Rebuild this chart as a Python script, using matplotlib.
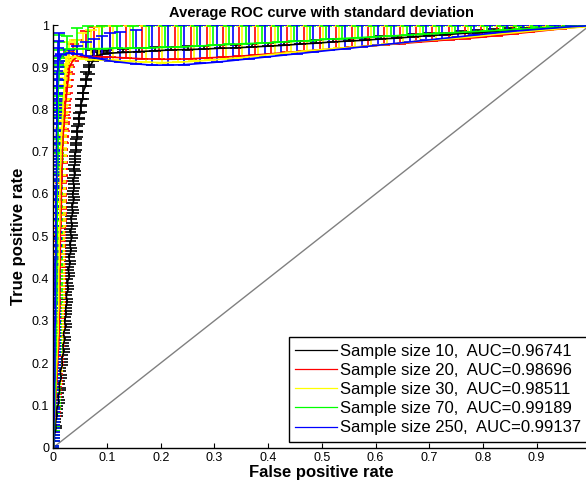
import matplotlib
matplotlib.use("Agg")
import matplotlib.pyplot as plt
from matplotlib.lines import Line2D

plt.rcParams['font.family'] = ['Liberation Sans', 'DejaVu Sans']

tpr_levels = [0.000, 0.015, 0.030, 0.045, 0.060, 0.075, 0.090, 0.105, 0.120, 0.135, 0.150, 0.165, 0.180, 0.195, 0.210, 0.225,
              0.240, 0.255, 0.270, 0.285, 0.300, 0.315, 0.330, 0.345, 0.360, 0.375, 0.390, 0.405, 0.420, 0.435, 0.450, 0.465,
              0.480, 0.495, 0.510, 0.525, 0.540, 0.555, 0.570, 0.585, 0.600, 0.615, 0.630, 0.645, 0.660, 0.675, 0.690, 0.705,
              0.720, 0.735, 0.750, 0.765, 0.780, 0.795, 0.810, 0.825, 0.840, 0.855, 0.870, 0.885, 0.900, 0.915]

steep_fpr_10 = [0.000, 0.002, 0.002, 0.005, 0.004, 0.007, 0.006, 0.010, 0.009, 0.012, 0.011, 0.015, 0.013, 0.017, 0.016, 0.019,
                0.018, 0.021, 0.019, 0.023, 0.021, 0.024, 0.023, 0.026, 0.024, 0.028, 0.026, 0.030, 0.028, 0.031, 0.029, 0.033,
                0.031, 0.034, 0.032, 0.035, 0.033, 0.036, 0.035, 0.038, 0.036, 0.039, 0.037, 0.040, 0.038, 0.041, 0.040, 0.043,
                0.042, 0.045, 0.044, 0.048, 0.047, 0.051, 0.051, 0.055, 0.055, 0.060, 0.061, 0.066, 0.067, 0.074]
steep_std_10 = [0.004, 0.007, 0.008, 0.007, 0.008, 0.007, 0.008, 0.007, 0.008, 0.007, 0.008, 0.007, 0.008, 0.007, 0.008, 0.007,
                0.008, 0.007, 0.008, 0.007, 0.008, 0.007, 0.008, 0.007, 0.008, 0.007, 0.008, 0.007, 0.008, 0.007, 0.008, 0.007,
                0.008, 0.007, 0.008, 0.007, 0.008, 0.008, 0.008, 0.008, 0.008, 0.008, 0.009, 0.009, 0.009, 0.009, 0.010, 0.010,
                0.010, 0.011, 0.011, 0.012, 0.012, 0.013, 0.014, 0.015, 0.016, 0.017, 0.018, 0.020, 0.022, 0.025]
steep_fpr_20 = [0.000, 0.001, 0.001, 0.002, 0.002, 0.003, 0.004, 0.004, 0.005, 0.005, 0.006, 0.007, 0.007, 0.008, 0.008, 0.009,
                0.010, 0.010, 0.011, 0.011, 0.011, 0.011, 0.012, 0.012, 0.012, 0.012, 0.012, 0.012, 0.012, 0.013, 0.013, 0.013,
                0.013, 0.013, 0.013, 0.014, 0.014, 0.014, 0.015, 0.015, 0.015, 0.015, 0.016, 0.016, 0.016, 0.017, 0.017, 0.017,
                0.018, 0.018, 0.019, 0.020, 0.021, 0.022, 0.022, 0.024, 0.025, 0.026, 0.028, 0.029, 0.030, 0.036]
steep_std_20 = [0.004, 0.008, 0.007, 0.008, 0.007, 0.008, 0.007, 0.008, 0.007, 0.008, 0.007, 0.008, 0.007, 0.008, 0.007, 0.008,
                0.007, 0.008, 0.007, 0.008, 0.007, 0.008, 0.007, 0.008, 0.008, 0.008, 0.008, 0.008, 0.008, 0.008, 0.008, 0.009,
                0.009, 0.009, 0.009, 0.010, 0.010, 0.010, 0.011, 0.011, 0.012, 0.012, 0.013, 0.013, 0.014, 0.015, 0.016, 0.017,
                0.018, 0.019, 0.020, 0.021, 0.023, 0.025, 0.027, 0.029, 0.031, 0.033, 0.035, 0.037, 0.039, 0.041]
steep_fpr_30 = [0.000, 0.001, 0.001, 0.001, 0.002, 0.002, 0.003, 0.003, 0.004, 0.004, 0.005, 0.005, 0.006, 0.006, 0.007, 0.007,
                0.008, 0.008, 0.009, 0.009, 0.009, 0.009, 0.010, 0.010, 0.010, 0.010, 0.010, 0.010, 0.010, 0.011, 0.011, 0.011,
                0.011, 0.011, 0.011, 0.012, 0.012, 0.012, 0.012, 0.012, 0.012, 0.013, 0.013, 0.013, 0.013, 0.014, 0.014, 0.014,
                0.015, 0.015, 0.016, 0.017, 0.017, 0.018, 0.018, 0.019, 0.020, 0.021, 0.022, 0.023, 0.025, 0.030]
steep_std_30 = [0.004, 0.007, 0.008, 0.007, 0.008, 0.007, 0.008, 0.007, 0.008, 0.007, 0.008, 0.007, 0.008, 0.007, 0.008, 0.007,
                0.008, 0.007, 0.008, 0.007, 0.008, 0.008, 0.008, 0.008, 0.008, 0.008, 0.008, 0.009, 0.009, 0.009, 0.009, 0.010,
                0.010, 0.010, 0.011, 0.011, 0.011, 0.012, 0.012, 0.013, 0.013, 0.014, 0.014, 0.015, 0.016, 0.017, 0.018, 0.019,
                0.020, 0.021, 0.022, 0.024, 0.026, 0.028, 0.030, 0.032, 0.034, 0.036, 0.038, 0.040, 0.042, 0.044]
steep_fpr_70 = [0.000, 0.001, 0.001, 0.002, 0.002, 0.002, 0.003, 0.003, 0.003, 0.003, 0.004, 0.004, 0.004, 0.004, 0.004, 0.005,
                0.005, 0.005, 0.005, 0.005, 0.005, 0.005, 0.005, 0.006, 0.006, 0.006, 0.006, 0.006, 0.006, 0.006, 0.006, 0.006,
                0.006, 0.007, 0.007, 0.007, 0.007, 0.007, 0.007, 0.007, 0.007, 0.007, 0.007, 0.007, 0.008, 0.008, 0.008, 0.008,
                0.008, 0.008, 0.008, 0.008, 0.009, 0.009, 0.009, 0.009, 0.009, 0.009, 0.010, 0.010, 0.010, 0.011]
steep_std_70 = [0.004, 0.007, 0.008, 0.007, 0.008, 0.007, 0.008, 0.007, 0.008, 0.007, 0.008, 0.007, 0.008, 0.007, 0.008, 0.008,
                0.008, 0.008, 0.008, 0.008, 0.009, 0.009, 0.009, 0.009, 0.010, 0.010, 0.010, 0.011, 0.011, 0.011, 0.012, 0.012,
                0.013, 0.013, 0.014, 0.014, 0.015, 0.016, 0.016, 0.017, 0.018, 0.019, 0.020, 0.021, 0.022, 0.023, 0.025, 0.026,
                0.028, 0.030, 0.032, 0.034, 0.036, 0.038, 0.041, 0.044, 0.047, 0.050, 0.053, 0.056, 0.059, 0.062]
steep_fpr_250 = [0.000, 0.001, 0.001, 0.001, 0.001, 0.002, 0.002, 0.002, 0.002, 0.002, 0.002, 0.003, 0.003, 0.003, 0.003, 0.003,
                 0.003, 0.003, 0.003, 0.003, 0.004, 0.004, 0.004, 0.004, 0.004, 0.004, 0.004, 0.004, 0.004, 0.004, 0.005, 0.005,
                 0.005, 0.005, 0.005, 0.005, 0.005, 0.005, 0.005, 0.005, 0.005, 0.006, 0.006, 0.006, 0.006, 0.006, 0.006, 0.006,
                 0.006, 0.006, 0.006, 0.007, 0.007, 0.007, 0.007, 0.007, 0.007, 0.008, 0.008, 0.008, 0.009, 0.010]
steep_std_250 = [0.004, 0.008, 0.007, 0.008, 0.007, 0.008, 0.007, 0.008, 0.007, 0.008, 0.007, 0.008, 0.008, 0.008, 0.008, 0.008,
                 0.008, 0.008, 0.009, 0.009, 0.009, 0.009, 0.010, 0.010, 0.010, 0.011, 0.011, 0.011, 0.012, 0.012, 0.013, 0.013,
                 0.014, 0.014, 0.015, 0.015, 0.016, 0.017, 0.018, 0.019, 0.020, 0.021, 0.022, 0.023, 0.024, 0.026, 0.028, 0.030,
                 0.032, 0.034, 0.036, 0.038, 0.040, 0.042, 0.045, 0.048, 0.051, 0.054, 0.057, 0.060, 0.063, 0.066]

# flat part of every curve: mean tpr and upper spread at each fpr
fpr_10 = [0.082, 0.092, 0.100, 0.130, 0.160, 0.190, 0.220, 0.250, 0.280, 0.310, 0.340, 0.370, 0.400, 0.430, 0.460, 0.490,
          0.520, 0.550, 0.580, 0.610, 0.640, 0.670, 0.700, 0.730, 0.760, 0.790, 0.820, 0.850, 0.880, 0.910, 0.940, 0.970, 1.000]
tpr_10 = [0.927, 0.931, 0.933, 0.935, 0.937, 0.939, 0.941, 0.942, 0.943, 0.945, 0.946, 0.948, 0.950, 0.952, 0.955, 0.957,
          0.960, 0.962, 0.964, 0.967, 0.969, 0.972, 0.975, 0.977, 0.980, 0.982, 0.985, 0.987, 0.989, 0.992, 0.994, 0.996, 1.000]
std_10 = [0.008, 0.008, 0.008, 0.008, 0.008, 0.008, 0.008, 0.008, 0.008, 0.008, 0.007, 0.007, 0.007, 0.007, 0.007, 0.007,
          0.007, 0.006, 0.006, 0.006, 0.006, 0.006, 0.006, 0.005, 0.005, 0.005, 0.005, 0.005, 0.004, 0.004, 0.004, 0.003, 0.000]

fpr_20 = [0.045, 0.060, 0.075, 0.090, 0.106, 0.136, 0.166, 0.196, 0.226, 0.256, 0.286, 0.316, 0.346, 0.376, 0.406, 0.436,
          0.466, 0.496, 0.526, 0.556, 0.586, 0.616, 0.646, 0.676, 0.706, 0.736, 0.766, 0.796, 0.826, 0.856, 0.886, 0.916,
          0.946, 0.976, 1.000]
tpr_20 = [0.925, 0.925, 0.925, 0.925, 0.924, 0.922, 0.920, 0.919, 0.919, 0.920, 0.922, 0.924, 0.926, 0.929, 0.932, 0.935,
          0.938, 0.941, 0.944, 0.947, 0.950, 0.953, 0.956, 0.959, 0.962, 0.965, 0.968, 0.971, 0.975, 0.979, 0.983, 0.987,
          0.991, 0.995, 1.000]
std_20 = [0.040, 0.060, 0.070, 0.075, 0.076, 0.078, 0.080, 0.081, 0.081, 0.080, 0.078, 0.076, 0.074, 0.071, 0.068, 0.065,
          0.062, 0.059, 0.056, 0.053, 0.050, 0.047, 0.044, 0.041, 0.038, 0.035, 0.032, 0.029, 0.025, 0.021, 0.017, 0.013,
          0.009, 0.005, 0.000]

fpr_30 = [0.040, 0.055, 0.070, 0.085, 0.112, 0.142, 0.172, 0.202, 0.232, 0.262, 0.292, 0.322, 0.352, 0.382, 0.412, 0.442,
          0.472, 0.502, 0.532, 0.562, 0.592, 0.622, 0.652, 0.682, 0.712, 0.742, 0.772, 0.802, 0.832, 0.862, 0.892, 0.922,
          0.952, 0.982, 1.000]
tpr_30 = [0.925, 0.920, 0.918, 0.917, 0.916, 0.914, 0.912, 0.911, 0.912, 0.914, 0.917, 0.920, 0.923, 0.927, 0.931, 0.935,
          0.939, 0.942, 0.945, 0.948, 0.951, 0.954, 0.958, 0.962, 0.965, 0.968, 0.971, 0.975, 0.979, 0.982, 0.986, 0.989,
          0.992, 0.995, 1.000]
std_30 = [0.040, 0.060, 0.070, 0.078, 0.082, 0.084, 0.086, 0.087, 0.086, 0.084, 0.081, 0.078, 0.075, 0.071, 0.067, 0.063,
          0.059, 0.056, 0.053, 0.050, 0.047, 0.044, 0.040, 0.036, 0.033, 0.030, 0.027, 0.023, 0.019, 0.016, 0.012, 0.009,
          0.006, 0.003, 0.000]

fpr_70 = [0.025, 0.045, 0.065, 0.090, 0.118, 0.148, 0.178, 0.208, 0.238, 0.268, 0.298, 0.328, 0.358, 0.388, 0.418, 0.448,
          0.478, 0.508, 0.538, 0.568, 0.598, 0.628, 0.658, 0.688, 0.718, 0.748, 0.778, 0.808, 0.838, 0.868, 0.898, 0.928,
          0.958, 0.988, 1.000]
tpr_70 = [0.943, 0.944, 0.944, 0.944, 0.945, 0.945, 0.946, 0.947, 0.948, 0.950, 0.952, 0.954, 0.956, 0.957, 0.959, 0.961,
          0.963, 0.966, 0.968, 0.970, 0.972, 0.974, 0.976, 0.978, 0.980, 0.982, 0.984, 0.986, 0.988, 0.990, 0.992, 0.994,
          0.996, 0.998, 1.000]
std_70 = [0.030, 0.050, 0.053, 0.053, 0.052, 0.052, 0.051, 0.050, 0.049, 0.047, 0.045, 0.043, 0.041, 0.040, 0.038, 0.036,
          0.034, 0.031, 0.029, 0.027, 0.025, 0.023, 0.021, 0.019, 0.017, 0.015, 0.013, 0.011, 0.009, 0.007, 0.005, 0.003,
          0.002, 0.001, 0.000]

fpr_250 = [0.015, 0.030, 0.045, 0.060, 0.075, 0.090, 0.105, 0.124, 0.154, 0.184, 0.214, 0.244, 0.274, 0.304, 0.334, 0.364,
           0.394, 0.424, 0.454, 0.484, 0.514, 0.544, 0.574, 0.604, 0.634, 0.664, 0.694, 0.724, 0.754, 0.784, 0.814, 0.844,
           0.874, 0.904, 0.934, 0.964, 0.994, 1.000]
tpr_250 = [0.930, 0.933, 0.931, 0.927, 0.923, 0.919, 0.915, 0.912, 0.908, 0.905, 0.905, 0.906, 0.909, 0.912, 0.916, 0.920,
           0.924, 0.928, 0.932, 0.936, 0.940, 0.944, 0.948, 0.952, 0.956, 0.960, 0.964, 0.968, 0.972, 0.976, 0.980, 0.984,
           0.987, 0.990, 0.993, 0.996, 0.998, 1.000]
std_250 = [0.002, 0.007, 0.019, 0.033, 0.045, 0.056, 0.065, 0.072, 0.080, 0.095, 0.095, 0.094, 0.091, 0.088, 0.084, 0.080,
           0.076, 0.072, 0.068, 0.064, 0.060, 0.056, 0.052, 0.048, 0.044, 0.040, 0.036, 0.032, 0.028, 0.024, 0.020, 0.016,
           0.013, 0.010, 0.007, 0.004, 0.002, 0.000]

sizes = [10, 20, 30, 70, 250]
aucs = [0.96741, 0.98696, 0.98511, 0.99189, 0.99137]
colors = ['#000000', '#ff0000', '#ffff00', '#00ff00', '#0000ff']
curves = [
    (steep_fpr_10 + fpr_10, tpr_levels + tpr_10, steep_std_10 + std_10),
    (steep_fpr_20 + fpr_20, tpr_levels + tpr_20, steep_std_20 + std_20),
    (steep_fpr_30 + fpr_30, tpr_levels + tpr_30, steep_std_30 + std_30),
    (steep_fpr_70 + fpr_70, tpr_levels + tpr_70, steep_std_70 + std_70),
    (steep_fpr_250 + fpr_250, tpr_levels + tpr_250, steep_std_250 + std_250),
]

W, H = 586, 491
fig = plt.figure(figsize=(W / 100, H / 100), dpi=100)
# x=1 sits just past the right edge of the picture, as in the original
ax = fig.add_axes([53.3 / W, 43.5 / H, 537 / W, 422.5 / H])

ax.plot([0, 1], [0, 1], color='#808080', lw=1.0, zorder=1)

handles = []
for (fx, ty, sd), c, n, a in zip(curves, colors, sizes, aucs):
    # bars drawn upward from the mean, cap at both ends
    ax.errorbar(fx, ty, yerr=[[0] * len(sd), sd], color=c, ecolor=c, lw=1.2, elinewidth=1.2,
                capsize=4.5, capthick=1.2, zorder=2)
    handles.append(Line2D([], [], color=c, lw=0.9,
                          label=f'Sample size {n},  AUC={a:.5f}'))

ax.set_xlim(0, 1)
ax.set_ylim(0, 1)
ax.set_xticks([0, 0.1, 0.2, 0.3, 0.4, 0.5, 0.6, 0.7, 0.8, 0.9])
ax.set_xticklabels(['0', '0.1', '0.2', '0.3', '0.4', '0.5', '0.6', '0.7', '0.8', '0.9'])
ax.set_yticks([0, 0.1, 0.2, 0.3, 0.4, 0.5, 0.6, 0.7, 0.8, 0.9, 1])
ax.set_yticklabels(['0', '0.1', '0.2', '0.3', '0.4', '0.5', '0.6', '0.7', '0.8', '0.9', '1'])
ax.tick_params(direction='in', length=3.6, width=0.8, labelsize=9, pad=3)
ax.spines['top'].set_visible(False)
ax.spines['right'].set_visible(False)
for s in ('left', 'bottom'):
    ax.spines[s].set_linewidth(1.0)

ax.set_title('Average ROC curve with standard deviation', fontsize=10.5, fontweight='bold', pad=6)
ax.set_xlabel('False positive rate', fontsize=12, fontweight='bold', labelpad=1)
ax.set_ylabel('True positive rate', fontsize=12, fontweight='bold', labelpad=4)

leg = ax.legend(handles=handles, loc='lower right', bbox_to_anchor=(588 / W, 49 / H),
                bbox_transform=fig.transFigure, fontsize=12, frameon=True, fancybox=False,
                framealpha=1, edgecolor='black', borderaxespad=0, borderpad=0.4,
                handlelength=2.5, handletextpad=0.2, labelspacing=0.25)
leg.get_frame().set_linewidth(1.0)

fig.savefig('out.png', dpi=100)
